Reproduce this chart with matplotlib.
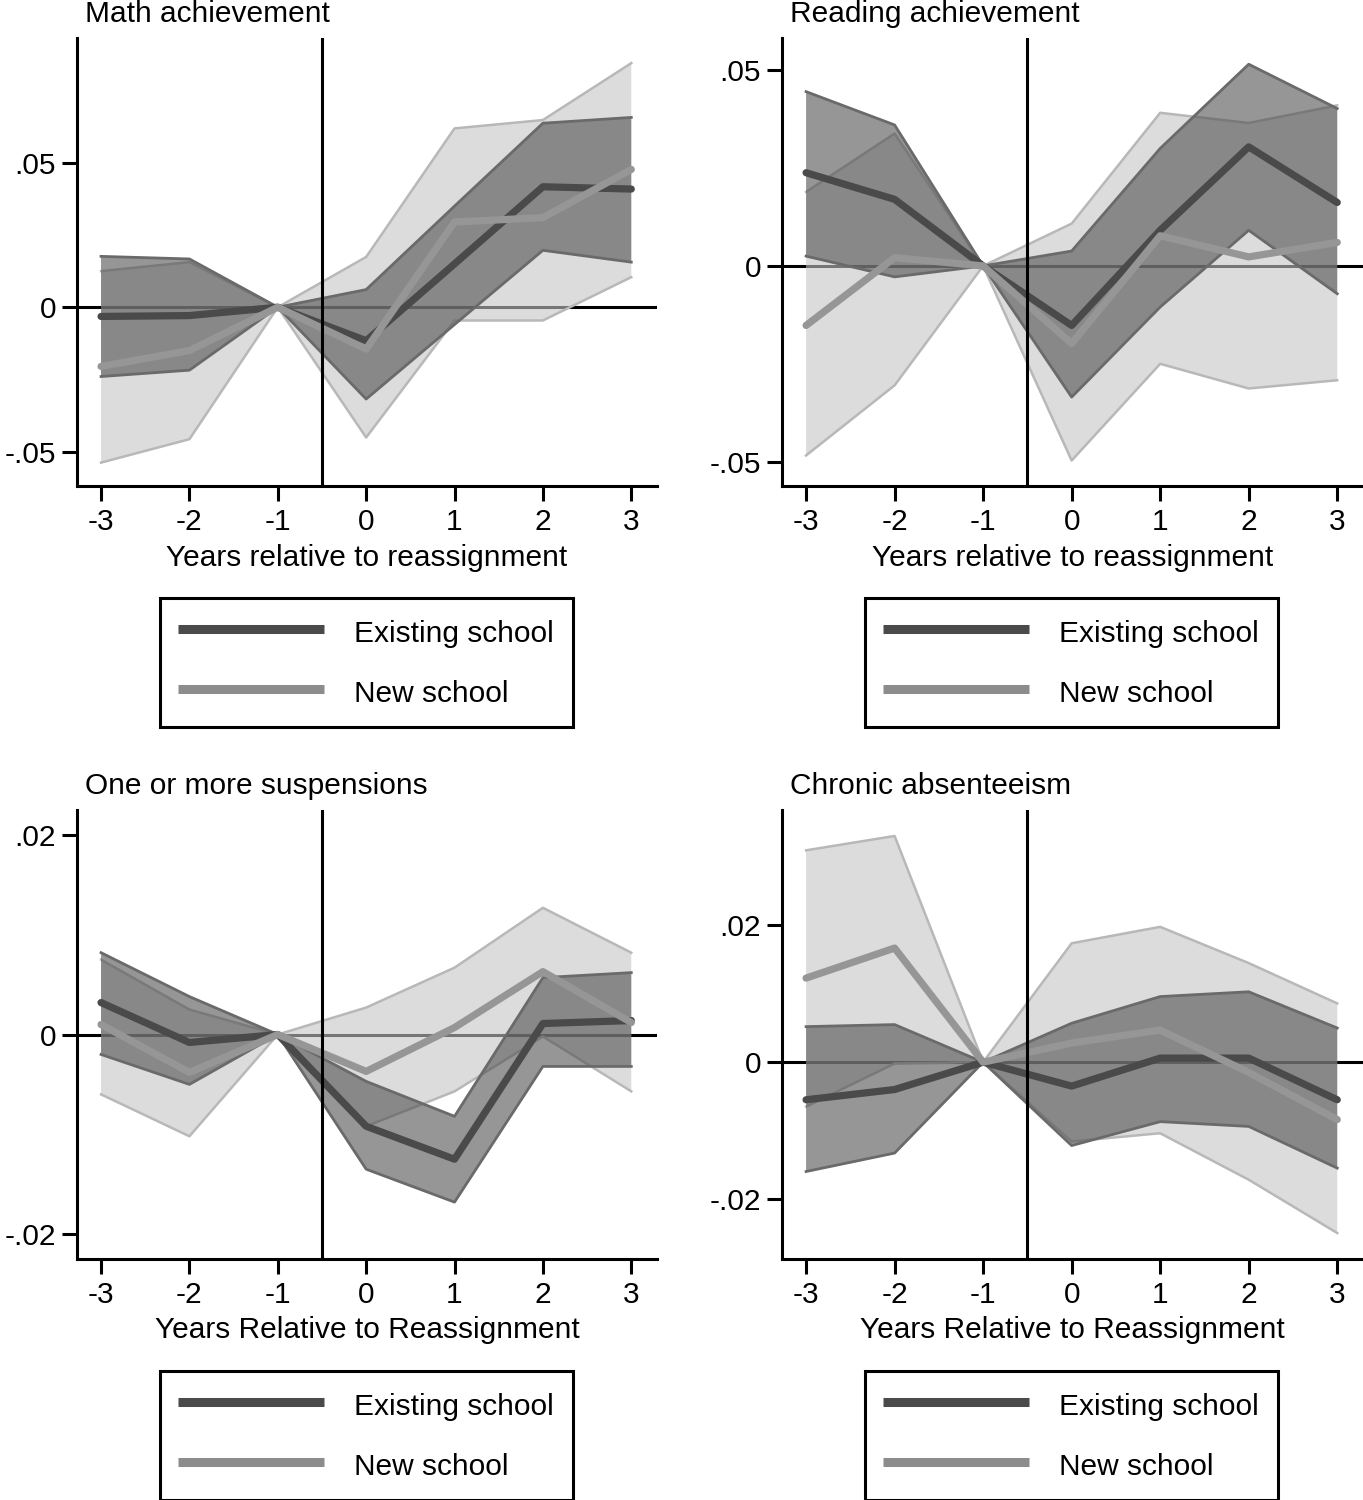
import matplotlib
matplotlib.use("Agg")
import matplotlib.pyplot as plt

plt.rcParams['font.family'] = ['Liberation Sans', 'DejaVu Sans']
plt.rcParams['axes.unicode_minus'] = False

# ---------------- data ----------------
years = [-3, -2, -1, 0, 1, 2, 3]
xtick_labels = ["-3", "-2", "-1", "0", "1", "2", "3"]
series_labels = ["Existing school", "New school"]

titles = ["Math achievement", "Reading achievement",
          "One or more suspensions", "Chronic absenteeism"]
xlabels = ["Years relative to reassignment", "Years relative to reassignment",
           "Years Relative to Reassignment", "Years Relative to Reassignment"]

math_yticks = [-0.05, 0, 0.05]
math_yticklabels = ["-.05", "0", ".05"]
read_yticks = [-0.05, 0, 0.05]
read_yticklabels = ["-.05", "0", ".05"]
susp_yticks = [-0.02, 0, 0.02]
susp_yticklabels = ["-.02", "0", ".02"]
abs_yticks = [-0.02, 0, 0.02]
abs_yticklabels = ["-.02", "0", ".02"]

math_exist = [-0.0032, -0.0029, 0, -0.0116, 0.0150, 0.0417, 0.0409]
math_exist_lo = [-0.0240, -0.0218, 0, -0.0318, -0.0060, 0.0197, 0.0156]
math_exist_hi = [0.0176, 0.0167, 0, 0.0061, 0.0350, 0.0637, 0.0657]
math_new = [-0.0205, -0.0150, 0, -0.0145, 0.0295, 0.0310, 0.0477]
math_new_lo = [-0.0538, -0.0457, 0, -0.0451, -0.0046, -0.0046, 0.0104]
math_new_hi = [0.0125, 0.0156, 0, 0.0174, 0.0619, 0.0648, 0.0845]

read_exist = [0.0238, 0.0170, 0, -0.0152, 0.0091, 0.0304, 0.0162]
read_exist_lo = [0.0025, -0.0028, 0, -0.0335, -0.0105, 0.0091, -0.0071]
read_exist_hi = [0.0445, 0.0360, 0, 0.0038, 0.0300, 0.0515, 0.0402]
read_new = [-0.0152, 0.0021, 0, -0.0198, 0.0077, 0.0023, 0.0060]
read_new_lo = [-0.0484, -0.0305, 0, -0.0497, -0.0250, -0.0313, -0.0292]
read_new_hi = [0.0189, 0.0338, 0, 0.0108, 0.0391, 0.0365, 0.0410]

susp_exist = [0.0032, -0.0008, 0, -0.0092, -0.0125, 0.0011, 0.0014]
susp_exist_lo = [-0.0020, -0.0050, 0, -0.0135, -0.0168, -0.0032, -0.0032]
susp_exist_hi = [0.0082, 0.0038, 0, -0.0047, -0.0082, 0.0057, 0.0062]
susp_new = [0.0010, -0.0038, 0, -0.0037, 0.0007, 0.0063, 0.0012]
susp_new_lo = [-0.0060, -0.0102, 0, -0.0092, -0.0057, -0.0002, -0.0057]
susp_new_hi = [0.0075, 0.0025, 0, 0.0027, 0.0067, 0.0127, 0.0082]

abs_exist = [-0.0055, -0.0040, 0, -0.0035, 0.0006, 0.0006, -0.0055]
abs_exist_lo = [-0.0160, -0.0133, 0, -0.0122, -0.0087, -0.0094, -0.0155]
abs_exist_hi = [0.0052, 0.0055, 0, 0.0057, 0.0096, 0.0103, 0.0050]
abs_new = [0.0123, 0.0167, 0, 0.0028, 0.0047, -0.0015, -0.0084]
abs_new_lo = [-0.0065, -0.0002, 0, -0.0116, -0.0104, -0.0172, -0.0250]
abs_new_hi = [0.0310, 0.0331, 0, 0.0174, 0.0198, 0.0145, 0.0086]

# ---------------- layout / style ----------------
W, H = 1363, 1500
fig = plt.figure(figsize=(W / 100, H / 100), dpi=100)
FS = 21.5

panels = [
    dict(box=(77, 38, 657, 486), ylim=(-0.0619, 0.0932), yt=math_yticks, ytl=math_yticklabels,
         ex=math_exist, exlo=math_exist_lo, exhi=math_exist_hi,
         nw=math_new, nwlo=math_new_lo, nwhi=math_new_hi),
    dict(box=(782, 38, 1363, 486), ylim=(-0.0562, 0.0582), yt=read_yticks, ytl=read_yticklabels,
         ex=read_exist, exlo=read_exist_lo, exhi=read_exist_hi,
         nw=read_new, nwlo=read_new_lo, nwhi=read_new_hi),
    dict(box=(77, 810, 657, 1259), ylim=(-0.0225, 0.0225), yt=susp_yticks, ytl=susp_yticklabels,
         ex=susp_exist, exlo=susp_exist_lo, exhi=susp_exist_hi,
         nw=susp_new, nwlo=susp_new_lo, nwhi=susp_new_hi),
    dict(box=(782, 810, 1363, 1259), ylim=(-0.0288, 0.0369), yt=abs_yticks, ytl=abs_yticklabels,
         ex=abs_exist, exlo=abs_exist_lo, exhi=abs_exist_hi,
         nw=abs_new, nwlo=abs_new_lo, nwhi=abs_new_hi),
]

C_EX = '#4a4a4a'
C_NW = '#969696'
C_EXBAND = '#505050'
C_NWBAND = '#c6c6c6'
C_EXEDGE = '#6a6a6a'
C_NWEDGE = '#b8b8b8'

for i, p in enumerate(panels):
    l, t, r, b = p['box']
    ax = fig.add_axes([l / W, 1 - b / H, (r - l) / W, (b - t) / H])
    ax.set_xlim(-3.272, 3.291)
    ax.set_ylim(*p['ylim'])

    ax.axhline(0, color='black', lw=2.2, zorder=1)
    ax.fill_between(years, p['nwlo'], p['nwhi'], facecolor=C_NWBAND, alpha=0.6, lw=0, zorder=2)
    ax.plot(years, p['nwlo'], color=C_NWEDGE, lw=1.8, zorder=2.1)
    ax.plot(years, p['nwhi'], color=C_NWEDGE, lw=1.8, zorder=2.1)
    ax.fill_between(years, p['exlo'], p['exhi'], facecolor=C_EXBAND, alpha=0.6, lw=0, zorder=3)
    ax.plot(years, p['exlo'], color=C_EXEDGE, lw=2.0, zorder=3.1)
    ax.plot(years, p['exhi'], color=C_EXEDGE, lw=2.0, zorder=3.1)
    h1, = ax.plot(years, p['ex'], color=C_EX, lw=5.2, zorder=4,
                  solid_capstyle='round', solid_joinstyle='round', label=series_labels[0])
    h2, = ax.plot(years, p['nw'], color=C_NW, lw=5.2, zorder=5,
                  solid_capstyle='round', solid_joinstyle='round', label=series_labels[1])
    ax.axvline(-0.5, color='black', lw=2.2, zorder=6)

    for s in ['top', 'right']:
        ax.spines[s].set_visible(False)
    for s in ['left', 'bottom']:
        ax.spines[s].set_linewidth(2.2)
        ax.spines[s].set_color('black')
        ax.spines[s].set_zorder(7)

    ax.set_xticks(years)
    ax.set_xticklabels(xtick_labels)
    ax.set_yticks(p['yt'])
    ax.set_yticklabels(p['ytl'])
    ax.tick_params(direction='out', length=11, width=2.2, labelsize=FS, color='black')
    ax.tick_params(axis='x', pad=5)
    ax.tick_params(axis='y', pad=4)

    ax.set_xlabel(xlabels[i], fontsize=FS)
    ax.xaxis.label.set_va('baseline')
    ax.xaxis.set_label_coords(0.5, -((566 + (t - 38)) - b) / (b - t))

    fig.text((l + 8) / W, 1 - (t - 16) / H, titles[i], fontsize=FS, ha='left', va='baseline')

    # legend below each panel
    lx0, lx1 = l + 83, l + 496
    ly0, ly1 = b + 112, b + 239
    leg = ax.legend(handles=[h1, h2], loc='upper left',
                    bbox_to_anchor=(lx0 / W, 1 - ly1 / H, (lx1 - lx0) / W, (ly1 - ly0) / H),
                    bbox_transform=fig.transFigure, mode='expand', borderaxespad=0,
                    fontsize=FS, frameon=True, fancybox=False, framealpha=1,
                    edgecolor='black', handlelength=4.9, handletextpad=1.0,
                    handleheight=1.33, borderpad=0.6, labelspacing=0.9)
    leg.get_frame().set_linewidth(2.2)
    for lh in leg.legend_handles:
        lh.set_linewidth(6.5)
        lh.set_solid_capstyle('butt')
    leg.legend_handles[1].set_color('#8c8c8c')

fig.savefig('out.png', dpi=100, facecolor='white')
